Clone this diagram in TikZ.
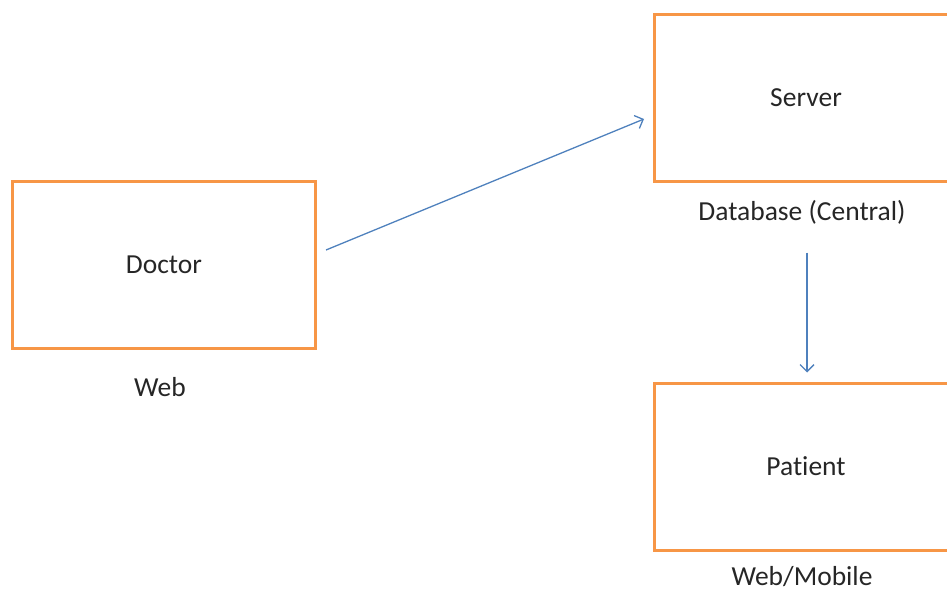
\documentclass[tikz,border=0pt]{standalone}
\usepackage{fontspec}
\setmainfont{Carlito}[Ligatures={NoCommon}]
\usetikzlibrary{arrows.meta,calc}
\definecolor{boxorange}{HTML}{F79646}
\definecolor{linkblue}{HTML}{4F81BD}
\definecolor{txt}{HTML}{262626}
\begin{document}
\begin{tikzpicture}[x=1pt,y=-1pt,
  font=\fontsize{27.5}{32}\selectfont, text=txt,
  unitbox/.style={draw=boxorange, line width=3pt, rectangle,
    minimum width=303pt, minimum height=167pt, inner sep=0pt},
  caption/.style={inner sep=0pt},
  link/.style={draw=linkblue, line width=1.3pt,
    -{Straight Barb[length=7pt,width=14pt,line width=1.3pt]}}]
\useasboundingbox (0,0) rectangle (947,592);
% three units
\node[unitbox] (doctor)  at (164,264.5) {Doctor};
\node[unitbox] (server)  at (806,97.5)  {Server};
\node[unitbox] (patient) at (806,466.5) {Patient};
% captions under the units
\node[caption] (doctorcap)  at (160,387) {Web};
\node[caption] (servercap)  at (802,212) {Database (Central)};
\node[caption] (patientcap) at (802,577) {Web/Mobile};
% links
\draw[link] ($(doctor.east)+(9,-14.5)$) -- ($(server.west)+(-9,21.5)$);
\draw[link] ($(server.south)+(1,70)$) -- ($(patient.north)+(1,-9)$);
\end{tikzpicture}
\end{document}
